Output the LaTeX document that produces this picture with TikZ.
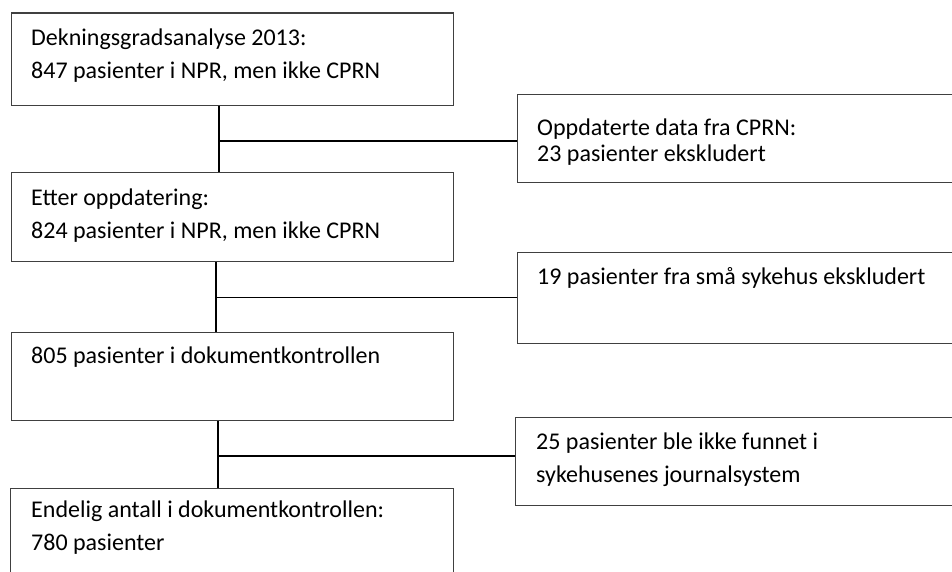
\documentclass[tikz,border=0pt]{standalone}
\usepackage{fontspec}
\setmainfont{Carlito}
\usetikzlibrary{positioning}

% fixed first-line height, so every text starts at the same depth
\newcommand{\topline}{\rule{0pt}{24pt}}

\tikzset{
  flowbox/.style={draw=black!75,line width=1.1pt,anchor=north west,minimum width=442.5pt,inner sep=0pt},
  sidebox/.style={draw=black!75,line width=1.1pt,anchor=north west,minimum width=460pt,inner sep=0pt},
  boxtext/.style={align=left,inner sep=0pt,font=\fontsize{24}{33}\selectfont},
  link/.style={line width=1.4pt,draw=black}
}

\begin{document}
\begin{tikzpicture}[x=1pt,y=-1pt]
\useasboundingbox (0,0) rectangle (952,572);
\clip (0,0) rectangle (952,572);

% left column
\node[flowbox,minimum height=92.5pt] (dekning) at (10.5,12.5) {};
\node[boxtext,below right=8.5pt and 20.5pt of dekning.north west] (dekning_t) {\topline Dekningsgradsanalyse 2013:\\847 pasienter i NPR, men ikke CPRN};
\node[flowbox,minimum height=89pt] (oppdatering) at (10.5,172) {};
\node[boxtext,below right=9pt and 20.5pt of oppdatering.north west] (oppdatering_t) {\topline Etter oppdatering:\\824 pasienter i NPR, men ikke CPRN};
\node[flowbox,minimum height=88pt] (kontroll) at (10.5,332) {};
\node[boxtext,below right=7pt and 20.5pt of kontroll.north west] (kontroll_t) {\topline 805 pasienter i dokumentkontrollen};
\node[flowbox,minimum height=120pt] (endelig) at (10,488) {};
\node[boxtext,below right=5pt and 21pt of endelig.north west] (endelig_t) {\topline Endelig antall i dokumentkontrollen:\\780 pasienter};

% right column
\node[sidebox,minimum height=88pt] (cprn) at (517,94) {};
\node[boxtext,font=\fontsize{24}{26}\selectfont,below right=17pt and 20pt of cprn.north west] (cprn_t) {\topline Oppdaterte data fra CPRN:\\23 pasienter ekskludert};
\node[sidebox,minimum height=91pt] (smaa) at (517,252) {};
\node[boxtext,below right=8pt and 20pt of smaa.north west] (smaa_t) {\topline 19 pasienter fra små sykehus ekskludert};
\node[sidebox,minimum height=88pt] (journal) at (515,417) {};
\node[boxtext,below right=8pt and 21pt of journal.north west] (journal_t) {\topline 25 pasienter ble ikke funnet i\\sykehusenes journalsystem};

% connectors
\coordinate (split1) at (219,141);
\coordinate (split2) at (216,297.5);
\coordinate (split3) at (218,456);
\draw[link] (dekning.south -| split1) -- (oppdatering.north -| split1);
\draw[link] (split1) -- (split1 -| cprn.west);
\draw[link] (oppdatering.south -| split2) -- (kontroll.north -| split2);
\draw[link] (split2) -- (split2 -| smaa.west);
\draw[link] (kontroll.south -| split3) -- (endelig.north -| split3);
\draw[link] (split3) -- (split3 -| journal.west);
\end{tikzpicture}
\end{document}
